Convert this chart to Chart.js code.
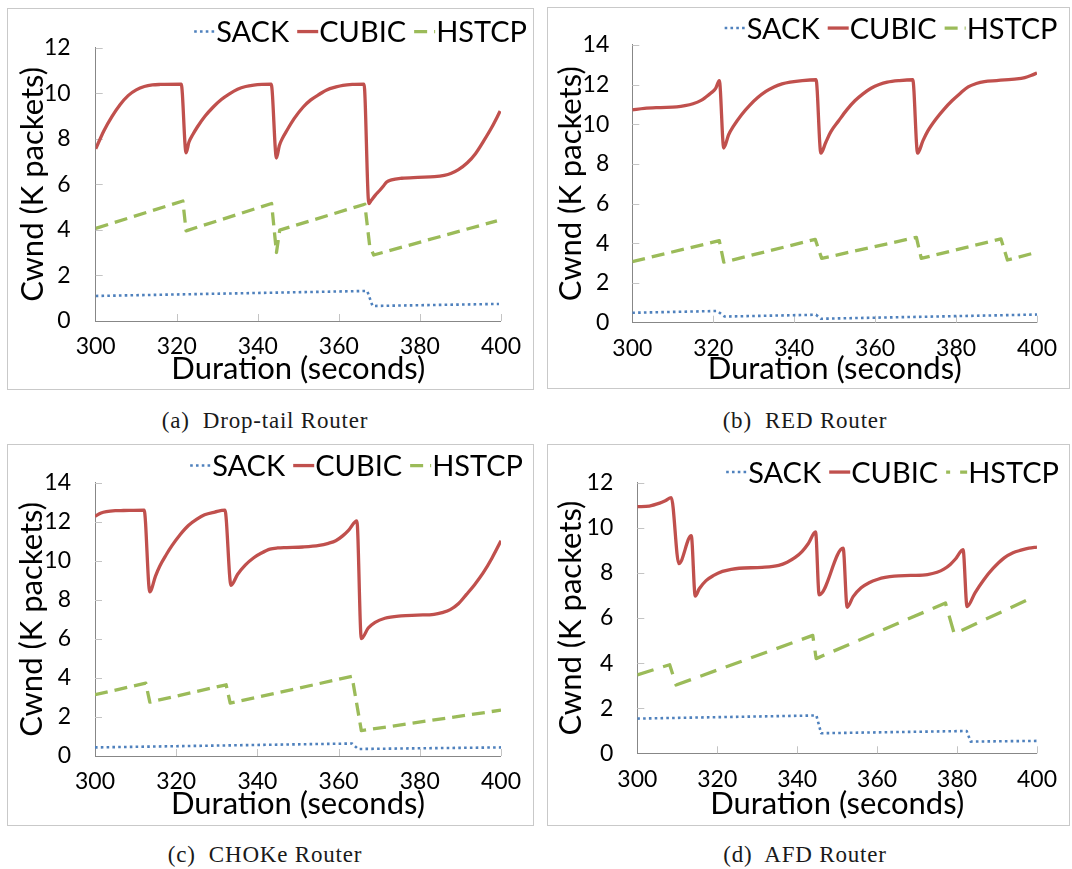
<!DOCTYPE html>
<html>
<head>
<meta charset="utf-8">
<script src="https://cdn.jsdelivr.net/npm/chart.js@4.4.1/dist/chart.umd.min.js"></script>
<style>
  body { margin: 0; background: #fff; width: 1072px; height: 869px; position: relative; overflow: hidden; }
  .panel { position: absolute; border: 1px solid #c9c9c9; }
  .panel canvas { display: block; }
  .cap { position: absolute; font-family: "Liberation Serif", serif; font-size: 23px; letter-spacing: 0.8px;
         white-space: pre; transform: translate(-50%, -50%); color: #1a1a1a; }
</style>
</head>
<body>
<div class="panel" style="left:7px;top:8px"><canvas id="cA" width="525" height="380"></canvas></div>
<div class="panel" style="left:547px;top:7px"><canvas id="cB" width="521" height="380"></canvas></div>
<div class="panel" style="left:7px;top:444px"><canvas id="cC" width="525" height="380"></canvas></div>
<div class="panel" style="left:547px;top:444px"><canvas id="cD" width="521" height="380"></canvas></div>
<div class="cap" style="left:265px;top:421px">(a)  Drop-tail Router</div>
<div class="cap" style="left:805px;top:421px">(b)  RED Router</div>
<div class="cap" style="left:265px;top:855px">(c)  CHOKe Router</div>
<div class="cap" style="left:805px;top:855px">(d)  AFD Router</div>
<script>
// cwnd traces, time in seconds, window in K packets

// (a) drop-tail
const dropSackT = [300, 367.0, 368.3, 399.5];
const dropSackW = [1.10, 1.32, 0.66, 0.75];
const dropCubicT = [300, 302, 304, 306, 308, 310, 312, 314, 316, 321.1,
  322.3, 323, 324, 325, 327, 329, 331, 333, 335, 337, 339, 341, 343.3,
  344.6, 345.3, 346, 347.2, 349, 351.2, 353, 355.3, 357, 359.3, 361, 363.3, 366.2,
  367.4, 368, 369, 370, 371, 371.8, 373, 375.5, 379.5, 383.6, 386, 387.6, 389.5,
  391.7, 393.7, 395.7, 397.7, 399.8];
const dropCubicW = [7.56, 8.35, 8.98, 9.5, 9.9, 10.15, 10.3, 10.37, 10.39, 10.40,
  7.39, 7.85, 8.2, 8.5, 9.0, 9.4, 9.73, 9.98, 10.18, 10.3, 10.36, 10.39, 10.40,
  7.16, 7.7, 8.0, 8.38, 8.9, 9.4, 9.7, 9.97, 10.15, 10.28, 10.35, 10.39, 10.40,
  5.16, 5.3, 5.53, 5.72, 5.93, 6.11, 6.2, 6.27, 6.31, 6.34, 6.4, 6.48, 6.65,
  6.95, 7.35, 7.9, 8.5, 9.22];
const dropHstcpT = [300, 321.5, 322.3, 343.4, 344.6, 345.4, 366.4, 367.6, 368.6, 399.0];
const dropHstcpW = [4.07, 5.27, 3.96, 5.16, 3.01, 3.99, 5.13, 3.3, 2.9, 4.4];

// (b) RED
const redSackT = [300, 321, 322.8, 345.4, 346.6, 400];
const redSackW = [0.5, 0.59, 0.31, 0.4, 0.2, 0.41];
const redCubicT = [300, 303, 307, 311, 313, 315, 317, 318.2, 319.5, 320.6, 321.5,
  322.6, 323.8, 325, 327, 329, 331, 333, 335, 337, 339, 342, 345.4,
  346.6, 347.8, 349, 351, 353, 355, 357, 359, 361, 363, 366, 369.3,
  370.5, 371.8, 373, 375, 377, 379, 381, 383, 385, 387, 390, 393, 395, 397, 398.5, 400];
const redCubicW = [10.72, 10.8, 10.84, 10.87, 10.93, 11.03, 11.2, 11.37, 11.58, 11.8, 12.2,
  8.8, 9.47, 9.9, 10.48, 10.95, 11.34, 11.65, 11.88, 12.03, 12.12, 12.2, 12.24,
  8.54, 9.08, 9.6, 10.17, 10.72, 11.18, 11.53, 11.81, 12.0, 12.12, 12.2, 12.24,
  8.54, 9.16, 9.65, 10.25, 10.75, 11.18, 11.55, 11.88, 12.05, 12.15, 12.2, 12.25, 12.28, 12.35, 12.45, 12.58];
const redHstcpT = [300, 321.5, 322.6, 345.2, 346.8, 370.2, 371.4, 391.1, 392.7, 400];
const redHstcpW = [3.08, 4.13, 3.05, 4.2, 3.24, 4.3, 3.24, 4.22, 3.16, 3.55];

// (c) CHOKe
const chokeSackT = [300, 363.3, 364.8, 400];
const chokeSackW = [0.44, 0.64, 0.36, 0.44];
const chokeCubicT = [300, 301.5, 302.8, 305, 307, 312.1,
  313.5, 314.9, 316, 317.5, 319, 321, 323, 325, 327, 329.5, 332,
  333.5, 335.1, 337, 339.1, 341, 343.1, 345, 347.2, 351.2, 355.2, 357.5, 359.3, 361, 362.5, 364.5,
  365.6, 367.3, 369, 371.4, 375.4, 379.4, 383.5, 385.5, 387.5, 389.5, 391.5, 393.5, 395.6, 397.8, 400];
const chokeCubicW = [12.28, 12.45, 12.52, 12.57, 12.58, 12.6,
  8.41, 9.22, 9.75, 10.3, 10.79, 11.35, 11.81, 12.12, 12.36, 12.5, 12.6,
  8.75, 9.3, 9.78, 10.16, 10.4, 10.6, 10.66, 10.68, 10.71, 10.79, 10.9, 11.03, 11.28, 11.58, 12.05,
  6.01, 6.56, 6.85, 7.06, 7.18, 7.22, 7.26, 7.35, 7.5, 7.8, 8.28, 8.78, 9.38, 10.15, 11.03];
const chokeHstcpT = [300, 312.5, 313.5, 332.3, 333.3, 363.3, 365.6, 400];
const chokeHstcpW = [3.14, 3.73, 2.76, 3.65, 2.71, 4.08, 1.3, 2.35];

// (d) AFD
const afdSackT = [300, 344.8, 346.0, 382.4, 383.4, 400];
const afdSackW = [1.54, 1.68, 0.89, 0.99, 0.52, 0.55];
const afdCubicT = [300, 303, 305.6, 307, 308.5,
  310.4, 313.5, 314.5,
  315.5, 317.2, 319, 321.3, 323.5, 325.5, 331.2, 335.4, 337.5, 339.5, 341.2, 342.8, 344.6,
  345.5, 351.5, 352.5,
  354, 356, 358, 360.2, 362, 364.3, 368.4, 372.6, 375, 376.7, 378.3, 379.6, 381.5,
  382.5, 384.5, 386.7, 389, 391.8, 394, 396, 398, 400];
const afdCubicW = [10.94, 10.97, 11.1, 11.2, 11.34,
  8.41, 9.66, 6.97,
  7.3, 7.66, 7.88, 8.07, 8.16, 8.21, 8.25, 8.34, 8.48, 8.69, 8.95, 9.31, 9.82,
  7.03, 9.1, 6.48,
  6.95, 7.34, 7.57, 7.72, 7.8, 7.86, 7.89, 7.93, 8.03, 8.17, 8.38, 8.62, 9.03,
  6.51, 7.12, 7.7, 8.2, 8.67, 8.9, 9.01, 9.1, 9.15];
const afdHstcpT = [300, 308.1, 309.7, 343.9, 344.75, 377.1, 379.3, 398.9];
const afdHstcpW = [3.48, 3.93, 3.03, 5.23, 4.2, 6.67, 5.3, 6.91];

const seriesNames = ['SACK', 'CUBIC', 'HSTCP'];
const xTicks = { min: 300, max: 400, step: 20 };
const xTitle = 'Duration (seconds)';
const yTitle = 'Cwnd (K packets)';

const FONT = 'Lato';

function pts(t, w) {
  return t.map((x, i) => ({ x: x, y: w[i] }));
}

// short tick marks drawn inward from both axes
const innerTicks = {
  id: 'innerTicks',
  beforeDatasetsDraw(chart) {
    const { ctx, scales: { x, y } } = chart;
    ctx.save();
    ctx.strokeStyle = '#c4c4c4';
    ctx.lineWidth = 1;
    ctx.beginPath();
    y.ticks.forEach(t => {
      if (t.value === 0) return;
      const py = Math.round(y.getPixelForValue(t.value)) + 0.5;
      ctx.moveTo(x.left, py);
      ctx.lineTo(x.left + 7, py);
    });
    x.ticks.forEach(t => {
      if (t.value === xTicks.min) return;
      const px = Math.round(x.getPixelForValue(t.value)) + 0.5;
      ctx.moveTo(px, y.bottom);
      ctx.lineTo(px, y.bottom - 7);
    });
    ctx.stroke();
    ctx.restore();
  }
};

// legend row: line sample right next to its label, whole row right-aligned
const lineLegend = {
  id: 'lineLegend',
  afterDraw(chart, args, opts) {
    const ctx = chart.ctx;
    const sets = chart.data.datasets;
    ctx.save();
    ctx.font = opts.size + 'px ' + FONT;
    const sample = 21, gapIn = 1, gapOut = 8;
    const widths = sets.map(d => ctx.measureText(d.label).width);
    let total = 0;
    widths.forEach((w, i) => { total += sample + gapIn + w + (i < sets.length - 1 ? gapOut : 0); });
    let x = opts.right - total;
    const ly = opts.baseline - opts.size * 0.36;
    sets.forEach((d, i) => {
      ctx.strokeStyle = d.borderColor;
      ctx.lineWidth = d.borderWidth;
      ctx.setLineDash(d.borderDash || []);
      ctx.lineDashOffset = d.legendDashOffset || 0;
      ctx.beginPath();
      ctx.moveTo(x, ly);
      ctx.lineTo(x + sample, ly);
      ctx.stroke();
      x += sample + gapIn;
      ctx.setLineDash([]);
      ctx.fillStyle = '#000';
      ctx.textBaseline = 'alphabetic';
      ctx.fillText(d.label, x, opts.baseline);
      x += widths[i] + gapOut;
    });
    ctx.restore();
  }
};

function makeChart(id, data, p) {
  const [sackT, sackW, cubicT, cubicW, hstcpT, hstcpW] = data;
  new Chart(document.getElementById(id), {
    type: 'line',
    data: {
      datasets: [
        { label: seriesNames[0], data: pts(sackT, sackW), borderColor: '#4F81BD',
          borderWidth: 2.6, borderDash: [2.6, 3.2], tension: 0 },
        { label: seriesNames[1], data: pts(cubicT, cubicW), borderColor: '#C0504D',
          borderWidth: 3.3, cubicInterpolationMode: 'monotone' },
        { label: seriesNames[2], data: pts(hstcpT, hstcpW), borderColor: '#9BBB59',
          borderWidth: 3.3, borderDash: p.hDash, legendDashOffset: p.hDashOffset || 0, tension: 0 }
      ]
    },
    options: {
      responsive: false,
      animation: false,
      events: [],
      elements: { point: { radius: 0 }, line: { borderCapStyle: 'butt', borderJoinStyle: 'round' } },
      layout: { padding: p.pad },
      plugins: {
        legend: { display: false },
        tooltip: { enabled: false },
        lineLegend: { right: p.legRight, baseline: p.legBase, size: 29 }
      },
      scales: {
        x: {
          type: 'linear', min: xTicks.min, max: xTicks.max,
          ticks: { stepSize: xTicks.step, padding: 12, maxRotation: 0, color: '#000',
                   font: { family: FONT, size: 23 } },
          grid: { display: false, drawTicks: false },
          border: { color: '#878787', width: 1 },
          title: { display: true, text: xTitle, color: '#000', padding: 0,
                   font: { family: FONT, size: 31 } },
          afterFit: s => { s.height = p.xH; }
        },
        y: {
          min: 0, max: p.yMax,
          ticks: { stepSize: 2, padding: p.yPad, color: '#000', font: { family: FONT, size: 23 } },
          grid: { display: false, drawTicks: false },
          border: { color: '#878787', width: 1 },
          title: { display: true, text: yTitle, color: '#000', padding: 0,
                   font: { family: FONT, size: 31 } },
          afterFit: s => { s.width = p.yW; }
        }
      }
    },
    plugins: [innerTicks, lineLegend]
  });
}

makeChart('cA', [dropSackT, dropSackW, dropCubicT, dropCubicW, dropHstcpT, dropHstcpW], {
  yMax: 12, pad: { left: 6, right: 25, top: 18.3, bottom: 1 }, yW: 81.7, xH: 67, yPad: 25,
  legRight: 519, legBase: 33, hDash: [13, 7]
});
makeChart('cB', [redSackT, redSackW, redCubicT, redCubicW, redHstcpT, redHstcpW], {
  yMax: 14, pad: { left: 4.5, right: 21, top: 15.3, bottom: 0 }, yW: 79.8, xH: 65.3, yPad: 23,
  legRight: 509.5, legBase: 30.5, hDash: [13, 7]
});
makeChart('cC', [chokeSackT, chokeSackW, chokeCubicT, chokeCubicW, chokeHstcpT, chokeHstcpW], {
  yMax: 14, pad: { left: 5, right: 24.5, top: 14.3, bottom: 2 }, yW: 82, xH: 67, yPad: 24,
  legRight: 515, legBase: 31, hDash: [13, 7]
});
makeChart('cD', [afdSackT, afdSackW, afdCubicT, afdCubicW, afdHstcpT, afdHstcpW], {
  yMax: 12, pad: { left: 4.5, right: 28, top: 18, bottom: 2 }, yW: 84.8, xH: 69.7, yPad: 24,
  legRight: 511, legBase: 37.5, hDash: [17, 10], hDashOffset: 13
});
</script>
</body>
</html>
